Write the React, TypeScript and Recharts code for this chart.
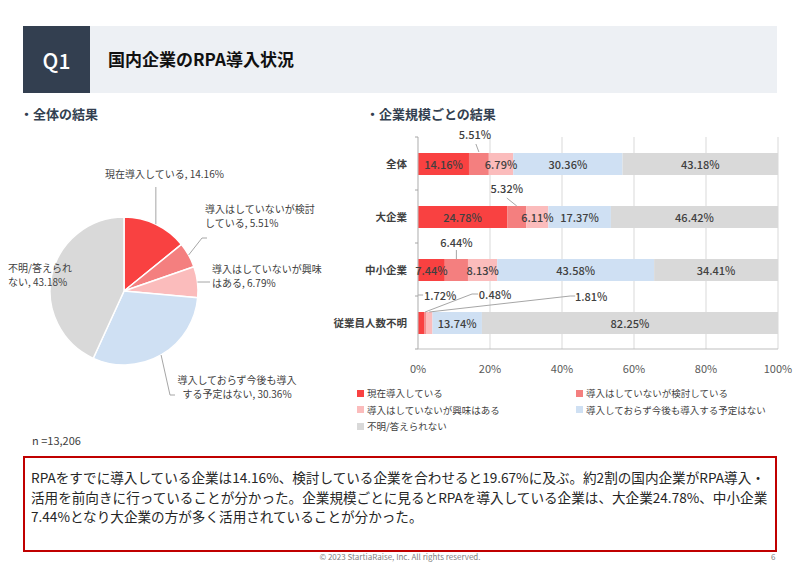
import React from 'react';
import { PieChart, Pie, Cell, BarChart, Bar, XAxis, YAxis, CartesianGrid, LabelList } from 'recharts';

const categories = ['全体', '大企業', '中小企業', '従業員人数不明'];
const seriesNames = [
    '現在導入している',
    '導入はしていないが検討している',
    '導入はしていないが興味はある',
    '導入しておらず今後も導入する予定はない',
    '不明/答えられない',
];
const adopted = [14.16, 24.78, 7.44, 1.72];
const considering = [5.51, 5.32, 6.44, 0.48];
const interested = [6.79, 6.11, 8.13, 1.81];
const noPlan = [30.36, 17.37, 43.58, 13.74];
const unknown = [43.18, 46.42, 34.41, 82.25];
const xTicks = [0, 20, 40, 60, 80, 100];

const seriesKeys = ['adopted', 'considering', 'interested', 'noPlan', 'unknown'];
const seriesValues = [adopted, considering, interested, noPlan, unknown];
const colors = ['#f94141', '#f47f7f', '#fbbcbc', '#cfe0f3', '#d9d9d9'];

const barData = categories.map((name, i) => {
    const row: any = { name };
    seriesKeys.forEach((k, s) => { row[k] = seriesValues[s][i]; });
    return row;
});
// pie = the 全体 row
const pieData = seriesNames.map((name, s) => ({ name, value: seriesValues[s][0] }));

const FONT = "'Noto Sans CJK JP', 'Noto Sans', sans-serif";
const TEXT = '#404040';
const LEADER = '#a6a6a6';
const fmt = (v: number) => `${v.toFixed(2)}%`;

// pie label placement, relative to the pie centre
const pieLabelLayout = [
    { brk: 0, dx: -19, dy: -118, anchor: 'start', leader: [[0, -104]] },
    { brk: 11, dx: 81, dy: -83, anchor: 'start', leader: [[78, -53], [83, -53]] },
    { brk: 11, dx: 88, dy: -23, anchor: 'start', leader: [[86, -9]] },
    { brk: 12, dx: 113, dy: 88, anchor: 'middle', leader: [[46, 104], [51, 104]] },
    { brk: 7, dx: -116, dy: -24, anchor: 'start', leader: [] as number[][] },
];

const renderPieLabel = (props: any) => {
    const { cx, cy, midAngle, outerRadius, index, name, value } = props;
    const RAD = Math.PI / 180;
    const ex = cx + outerRadius * Math.cos(-midAngle * RAD);
    const ey = cy + outerRadius * Math.sin(-midAngle * RAD);
    const lay = pieLabelLayout[index];
    const full = `${name}, ${value}%`;
    const lines = lay.brk ? [full.slice(0, lay.brk), full.slice(lay.brk)] : [full];
    let pts = lay.leader.map(([px, py], i) => [i === 0 && index === 0 ? ex : cx + px, cy + py]);
    const path = pts.length ? `M${ex},${ey}` + pts.map((p) => `L${p[0]},${p[1]}`).join('') : '';
    return (
        <g>
            {path && <path d={path} stroke={LEADER} fill="none" strokeWidth={1} />}
            {lines.map((t, i) => (
                <text key={i} x={cx + lay.dx} y={cy + lay.dy + i * 14} textAnchor={lay.anchor}
                    dominantBaseline="central" fontSize={10} fill={TEXT} fontFamily={FONT}>
                    {t}
                </text>
            ))}
        </g>
    );
};

// labels that sit above the bar, relative to the segment's top centre
const outsideLabels = [
    { s: 1, c: 0, dx: -4, dy: -19, leader: [[0, -1], [-3, -9]] },
    { s: 1, c: 1, dx: -10, dy: -18, leader: [[0, 0], [-10, -8]] },
    { s: 1, c: 2, dx: 0, dy: -17, leader: [[0, 0], [0, -9]] },
    { s: 0, c: 3, dx: 19, dy: -17, leader: [[-3, -17], [2, -17]] },
    { s: 1, c: 3, dx: 70, dy: -18, leader: [[0, 0], [47, -18], [53, -18]] },
    { s: 2, c: 3, dx: 162, dy: -16, leader: [[0, 0], [141, -16], [146, -16]] },
];

const makeBarLabel = (s: number) => (props: any) => {
    const { x, y, width, height, value, index } = props;
    const mx = Number(x) + Number(width) / 2;
    const out = outsideLabels.find((o) => o.s === s && o.c === index);
    if (out) {
        const d = out.leader.map((p, i) => `${i ? 'L' : 'M'}${mx + p[0]},${y + p[1]}`).join('');
        return (
            <g>
                <path d={d} stroke={LEADER} fill="none" strokeWidth={1} />
                <text x={mx + out.dx} y={y + out.dy} textAnchor="middle" dominantBaseline="central"
                    fontSize={11} fontWeight={500} fill={TEXT} fontFamily={FONT}>{fmt(value)}</text>
            </g>
        );
    }
    return (
        <text x={mx} y={y + height / 2} textAnchor="middle" dominantBaseline="central"
            fontSize={11} fontWeight={500} fill={TEXT} fontFamily={FONT}>{fmt(value)}</text>
    );
};

const PLOT_H = 212;
const HALF_BAND = PLOT_H / categories.length / 2;

const CategoryTick = (props: any) => {
    const { x, y, payload, index } = props;
    const ax = x + 11;
    return (
        <g>
            <text x={x} y={y} textAnchor="end" dominantBaseline="central" fontSize={10.5}
                fontWeight={700} fill={TEXT} fontFamily={FONT}>{payload.value}</text>
            <line x1={ax - 3} x2={ax} y1={y - HALF_BAND} y2={y - HALF_BAND} stroke={LEADER} />
            {index === categories.length - 1 && (
                <line x1={ax - 3} x2={ax} y1={y + HALF_BAND} y2={y + HALF_BAND} stroke={LEADER} />
            )}
        </g>
    );
};

export default function App() {
    return (
        <div style={{ position: 'absolute', left: 0, top: 0, width: 800, height: 566, background: '#fff', fontFamily: FONT, color: TEXT, overflow: 'hidden' }}>
            {/* header */}
            <div style={{ position: 'absolute', left: 23, top: 26, width: 67, height: 67, background: '#333f50', color: '#fff', fontSize: 21, fontWeight: 500, display: 'flex', alignItems: 'center', justifyContent: 'center' }}>Q1</div>
            <div style={{ position: 'absolute', left: 90, top: 26, width: 687, height: 67, background: '#edf0f4' }} />
            <div style={{ position: 'absolute', left: 108, top: 47, fontSize: 17, fontWeight: 700, color: '#111', lineHeight: '24px' }}>国内企業のRPA導入状況</div>

            <div style={{ position: 'absolute', left: 20, top: 104, fontSize: 13, fontWeight: 700, color: '#333f50', lineHeight: '20px' }}>・全体の結果</div>
            <div style={{ position: 'absolute', left: 366, top: 104, fontSize: 13, fontWeight: 700, color: '#333f50', lineHeight: '20px' }}>・企業規模ごとの結果</div>

            <div style={{ position: 'absolute', left: 0, top: 120 }}>
                <PieChart width={340} height={300} margin={{ top: 0, right: 0, bottom: 0, left: 0 }}>
                    <Pie data={pieData} dataKey="value" nameKey="name" cx={124} cy={171} outerRadius={74}
                        startAngle={90} endAngle={-270} stroke="#fff" strokeWidth={1.5}
                        label={renderPieLabel} labelLine={false} isAnimationActive={false}>
                        {pieData.map((_, i) => <Cell key={i} fill={colors[i]} />)}
                    </Pie>
                </PieChart>
            </div>

            <div style={{ position: 'absolute', left: 32, top: 431, fontSize: 11, lineHeight: '18px' }}>n =13,206</div>

            <div style={{ position: 'absolute', left: 330, top: 120 }}>
                <BarChart width={470} height={260} data={barData} layout="vertical" barSize={22}
                    margin={{ top: 17, right: 22, bottom: 0, left: 0 }}>
                    <CartesianGrid horizontal={false} stroke="#d9d9d9" />
                    <XAxis type="number" domain={[0, 100]} ticks={xTicks} tickFormatter={(v) => `${v}%`}
                        height={31} axisLine={{ stroke: '#bfbfbf' }} tickLine={false} tickMargin={10}
                        tick={{ fill: '#595959', fontSize: 11, fontFamily: FONT }} />
                    <YAxis type="category" dataKey="name" width={88} axisLine={{ stroke: '#bfbfbf' }}
                        tickLine={false} tickSize={3} tickMargin={8} tick={<CategoryTick />} />
                    {seriesKeys.map((k, s) => (
                        <Bar key={k} dataKey={k} stackId="a" fill={colors[s]} isAnimationActive={false}>
                            <LabelList dataKey={k} content={makeBarLabel(s)} />
                        </Bar>
                    ))}
                </BarChart>
            </div>

            {/* legend */}
            {seriesNames.map((n, s) => (
                <div key={n} style={{ position: 'absolute', left: s % 2 ? 576 : 357, top: 386 + Math.floor(s / 2) * 16.5, display: 'flex', alignItems: 'center', fontSize: 9.5, lineHeight: '14px', color: TEXT }}>
                    <span style={{ width: 7, height: 7, background: colors[s], marginRight: 3, display: 'inline-block' }} />
                    {n}
                </div>
            ))}

            {/* comment box */}
            <div style={{ position: 'absolute', left: 23, top: 456, width: 750, height: 92, border: '2px solid #c00000', boxSizing: 'content-box' }} />
            <div style={{ position: 'absolute', left: 31, top: 468, fontSize: 13.6, lineHeight: '19.5px', color: '#262626', whiteSpace: 'nowrap' }}>
                RPAをすでに導入している企業は14.16%、検討している企業を合わせると19.67%に及ぶ。約2割の国内企業がRPA導入・<br />
                活用を前向きに行っていることが分かった。企業規模ごとに見るとRPAを導入している企業は、大企業24.78%、中小企業<br />
                7.44%となり大企業の方が多く活用されていることが分かった。
            </div>

            <div style={{ position: 'absolute', left: 0, width: 800, top: 551, textAlign: 'center', fontSize: 8, color: '#7f7f7f', lineHeight: '12px' }}>© 2023 StartiaRaise, Inc. All rights reserved.</div>
            <div style={{ position: 'absolute', left: 771, top: 551, fontSize: 8, color: '#7f7f7f', lineHeight: '12px' }}>6</div>
        </div>
    );
}
